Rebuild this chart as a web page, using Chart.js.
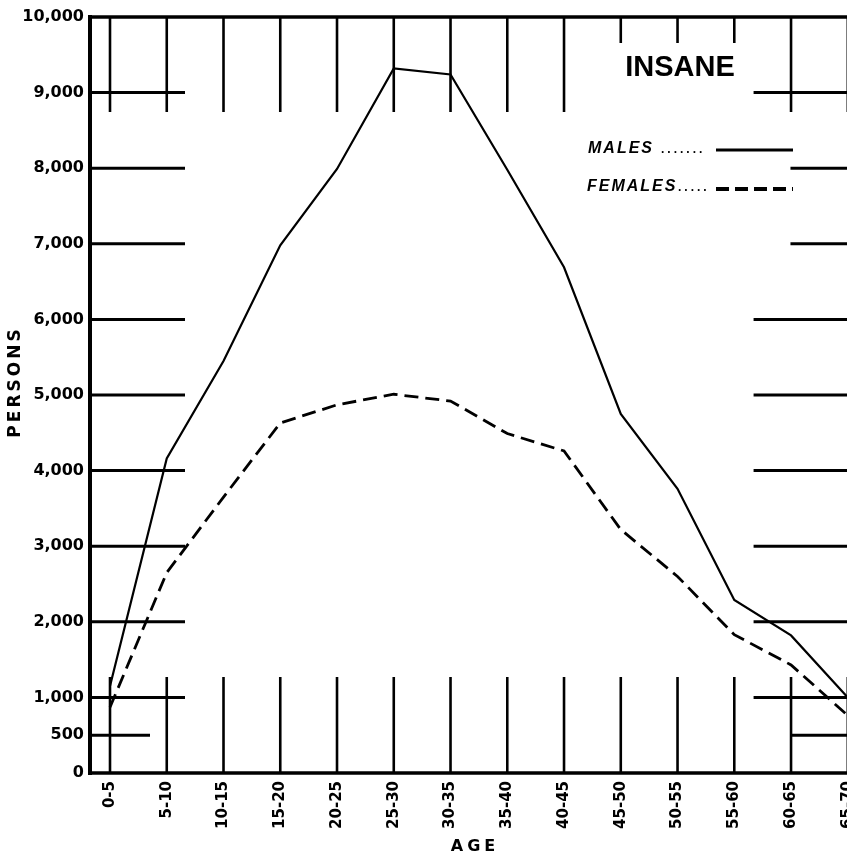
<!DOCTYPE html>
<html>
<head>
<meta charset="utf-8">
<title>Insane — persons by age</title>
<script src="https://cdn.jsdelivr.net/npm/chart.js@4.4.1/dist/chart.umd.min.js"></script>
<style>
  html, body { margin: 0; padding: 0; background: #fff; overflow: hidden; }
  #wrap { width: 900px; height: 854px; }
</style>
</head>
<body>
<div id="wrap"><canvas id="c" width="900" height="854"></canvas></div>
<script>
// Age groups (years) and number of insane persons in each
const ageGroups = ['0-5', '5-10', '10-15', '15-20', '20-25', '25-30', '30-35',
                   '35-40', '40-45', '45-50', '50-55', '55-60', '60-65', '65-70'];
const males   = [1150, 4160, 5450, 6980, 7990, 9320, 9240, 7980, 6690, 4750, 3760, 2290, 1820, 1000];
const females = [ 870, 2650, 3650, 4630, 4870, 5010, 4920, 4490, 4260, 3220, 2600, 1830, 1430,  760];
const personTicks = [0, 500, 1000, 2000, 3000, 4000, 5000, 6000, 7000, 8000, 9000, 10000];

const INK = '#000';

function seg(ctx, x1, y1, x2, y2) {
  ctx.beginPath();
  ctx.moveTo(x1, y1);
  ctx.lineTo(x2, y2);
  ctx.stroke();
}

// Frame, short tick bars along the edges (the sheet's ruling), title and key
const framePlugin = {
  id: 'frame',
  beforeDatasetsDraw(chart) {
    const { ctx, chartArea: a, scales: { x, y } } = chart;
    ctx.save();
    ctx.strokeStyle = INK;
    ctx.lineCap = 'butt';

    // horizontal bars at each value tick, from both sides
    ctx.lineWidth = 3;
    personTicks.forEach(v => {
      if (v === 0 || v === 10000) return;
      const py = y.getPixelForValue(v);
      const leftLen = v === 500 ? 60 : 95;
      seg(ctx, a.left, py, a.left + leftLen, py);
      const shortRight = v === 500 || v === 7000 || v === 8000;
      const startR = x.getPixelForValue(shortRight ? 11.99 : 11.34);
      seg(ctx, startR, py, a.right, py);
    });

    // vertical bars at each age group, hanging from the top and rising from the base
    ctx.lineWidth = 2.6;
    ageGroups.forEach((g, i) => {
      const px = x.getPixelForValue(i);
      const topLen = (i >= 9 && i <= 11) ? 26 : 95;
      seg(ctx, px, a.top, px, a.top + topLen);
      seg(ctx, px, a.bottom, px, a.bottom - 96);
    });

    // axes and top rule
    ctx.lineWidth = 4;
    seg(ctx, a.left, a.top - 2, a.left, a.bottom + 2);
    ctx.lineWidth = 3.5;
    seg(ctx, a.left - 2, a.top, a.right, a.top);
    seg(ctx, a.left - 2, a.bottom, a.right, a.bottom);
    ctx.restore();
  },
  afterDraw(chart) {
    const { ctx, chartArea: a } = chart;
    const dsM = chart.data.datasets[0];
    const dsF = chart.data.datasets[1];
    ctx.save();
    ctx.fillStyle = INK;
    ctx.strokeStyle = INK;

    // title
    ctx.font = 'bold 29px "Liberation Sans", Arial, sans-serif';
    ctx.textAlign = 'center';
    ctx.textBaseline = 'alphabetic';
    ctx.fillText('INSANE', 680, 76);

    // key
    ctx.textAlign = 'left';
    ctx.font = 'italic bold 16px "Liberation Sans", Arial, sans-serif';
    ctx.letterSpacing = '2px';
    ctx.fillText(dsM.label.toUpperCase(), 588, 153);
    ctx.fillText(dsF.label.toUpperCase(), 587, 191);
    ctx.font = 'bold 12px "Liberation Sans", Arial, sans-serif';
    ctx.letterSpacing = '3px';
    ctx.fillText('.......', 661, 153);
    ctx.fillText('.....', 678, 191);
    ctx.letterSpacing = '0px';

    ctx.lineWidth = 3;
    ctx.setLineDash([]);
    seg(ctx, 716, 150, 793, 150);
    ctx.lineWidth = 4;
    ctx.setLineDash([13, 6]);
    seg(ctx, 716, 189, 793, 189);
    ctx.setLineDash([]);

    // axis titles
    ctx.font = 'bold 17px "DejaVu Sans", sans-serif';
    ctx.letterSpacing = '3px';
    ctx.textAlign = 'center';
    ctx.textBaseline = 'middle';
    ctx.save();
    ctx.translate(16, 382);
    ctx.rotate(-Math.PI / 2);
    ctx.fillText('PERSONS', 0, 0);
    ctx.restore();
    ctx.font = 'bold 16px "DejaVu Sans", sans-serif';
    ctx.letterSpacing = '4px';
    ctx.fillText('AGE', 475, 847);
    ctx.restore();
  }
};

const points = arr => arr.map((v, i) => ({ x: i, y: v }));

new Chart(document.getElementById('c'), {
  type: 'line',
  data: {
    datasets: [
      {
        label: 'Males',
        data: points(males),
        borderColor: INK,
        borderWidth: 2.2,
        pointRadius: 0,
        tension: 0,
        fill: false
      },
      {
        label: 'Females',
        data: points(females),
        borderColor: INK,
        borderWidth: 2.8,
        borderDash: [14, 7],
        pointRadius: 0,
        tension: 0,
        fill: false
      }
    ]
  },
  options: {
    responsive: false,
    animation: false,
    events: [],
    layout: { padding: { top: 17, left: 0, right: 0, bottom: 0 } },
    plugins: {
      legend: { display: false },
      tooltip: { enabled: false },
      title: { display: false }
    },
    scales: {
      x: {
        type: 'linear',
        min: -0.3524,
        max: 13.92,
        afterBuildTicks: s => { s.ticks = ageGroups.map((g, i) => ({ value: i })); },
        afterFit: s => { s.height = 81; },
        grid: { display: false, drawTicks: false },
        border: { display: false },
        ticks: {
          autoSkip: false,
          minRotation: 90,
          maxRotation: 90,
          padding: 8,
          color: INK,
          font: { family: 'DejaVu Sans', weight: 'bold', size: 15 },
          callback: v => ageGroups[v]
        }
      },
      y: {
        min: 0,
        max: 10000,
        afterBuildTicks: s => { s.ticks = personTicks.map(v => ({ value: v })); },
        afterFit: s => { s.width = 90; },
        grid: { display: false, drawTicks: false },
        border: { display: false },
        ticks: {
          padding: 6,
          color: INK,
          font: { family: 'DejaVu Sans', weight: 'bold', size: 16 },
          callback: v => v.toLocaleString('en-US')
        }
      }
    }
  },
  plugins: [framePlugin]
});
</script>
</body>
</html>
